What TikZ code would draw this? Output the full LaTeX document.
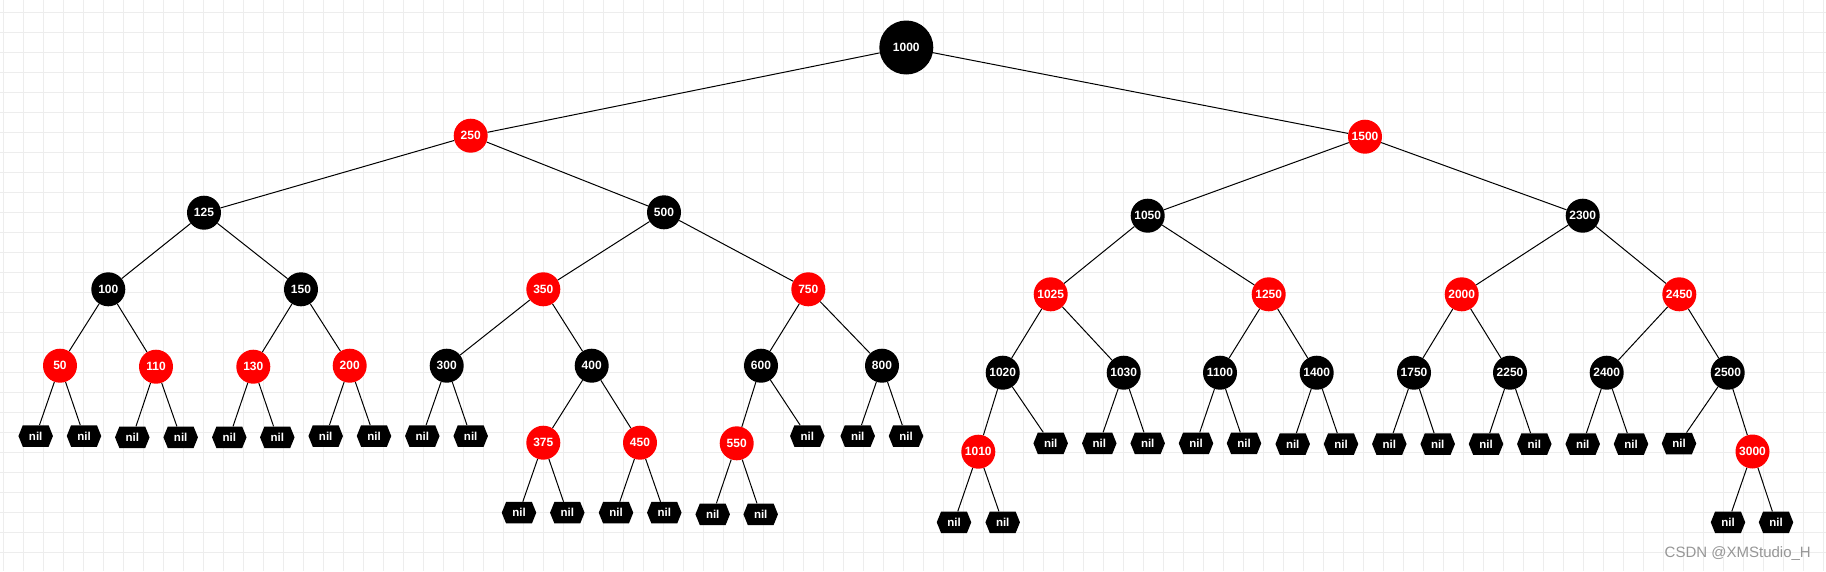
\documentclass[tikz,border=0pt]{standalone}
\usepackage{fontspec}
\setmainfont{Liberation Sans}
\usetikzlibrary{shapes.symbols}
\definecolor{gridc}{RGB}{237,237,237}
\definecolor{rbred}{RGB}{255,0,0}
\definecolor{wm}{RGB}{150,150,150}
\begin{document}
\begin{tikzpicture}[x=1pt,y=-1pt,
  rb/.style={circle, draw=none, minimum size=34pt, inner sep=0pt, text=white, font=\fontsize{12}{13}\selectfont\bfseries},
  bk/.style={rb, fill=black},
  rd/.style={rb, fill=rbred},
  nilnode/.style={shape=signal, signal to=east and west, signal pointer angle=136, fill=black, draw=none, minimum width=34.5pt, minimum height=21.5pt, inner sep=0pt, text=white, font=\fontsize{11.5}{12}\selectfont\bfseries},
  link/.style={draw=black, line width=1pt}]
\useasboundingbox (0,0) rectangle (1826,571);
\fill[white] (0,0) rectangle (1826,571);
\foreach \i in {0,...,91} \draw[gridc, line width=0.9pt] ({3.3+20*\i},0) -- ({3.3+20*\i},571);
\foreach \j in {0,...,27} \draw[gridc, line width=0.9pt] (0,{12.3+20*\j}) -- (1826,{12.3+20*\j});

% level 0
\node[bk, minimum size=54pt] (n1000) at (906.3,47.5) {1000};
% level 1
\node[rd] (n250) at (470.7,135.7) {250};
\node[rd] (n1500) at (1365,136.7) {1500};
% level 2
\node[bk] (n125) at (204,212.7) {125};
\node[bk] (n500) at (664,212.3) {500};
\node[bk] (n1050) at (1147.7,215.7) {1050};
\node[bk] (n2300) at (1582.7,215.7) {2300};
% level 3
\node[bk] (n100) at (108.3,289.3) {100};
\node[bk] (n150) at (301,289.3) {150};
\node[rd] (n350) at (543.3,289.3) {350};
\node[rd] (n750) at (808.3,289.3) {750};
\node[rd] (n1025) at (1050.7,294.3) {1025};
\node[rd] (n1250) at (1268.7,294.3) {1250};
\node[rd] (n2000) at (1461.7,294.3) {2000};
\node[rd] (n2450) at (1679.3,294.3) {2450};
% level 4
\node[rd] (n50) at (60,365.7) {50};
\node[rd] (n110) at (156,366.7) {110};
\node[rd] (n130) at (253.3,366.7) {130};
\node[rd] (n200) at (349.7,365.7) {200};
\node[bk] (n300) at (446.7,365.7) {300};
\node[bk] (n400) at (591.7,365.7) {400};
\node[bk] (n600) at (761,365.7) {600};
\node[bk] (n800) at (882,365.7) {800};
\node[bk] (n1020) at (1002.7,372.7) {1020};
\node[bk] (n1030) at (1123.7,372.7) {1030};
\node[bk] (n1100) at (1220,372.7) {1100};
\node[bk] (n1400) at (1316.7,372.7) {1400};
\node[bk] (n1750) at (1414,372.7) {1750};
\node[bk] (n2250) at (1510,372.7) {2250};
\node[bk] (n2400) at (1606.7,372.7) {2400};
\node[bk] (n2500) at (1727.7,372.7) {2500};
% level 5
\node[rd] (n375) at (543.3,442.7) {375};
\node[rd] (n450) at (640,442.7) {450};
\node[rd] (n550) at (736.7,443.3) {550};
\node[rd] (n1010) at (978.3,451.7) {1010};
\node[rd] (n3000) at (1752.5,451.5) {3000};
% nil leaves
\node[nilnode] (z50a) at (35.7,436) {nil};
\node[nilnode] (z50b) at (84,436) {nil};
\node[nilnode] (z110a) at (132.3,437.3) {nil};
\node[nilnode] (z110b) at (180.7,437.3) {nil};
\node[nilnode] (z130a) at (229.3,437.3) {nil};
\node[nilnode] (z130b) at (277.3,437.3) {nil};
\node[nilnode] (z200a) at (325.7,436) {nil};
\node[nilnode] (z200b) at (374,436) {nil};
\node[nilnode] (z300a) at (422.3,436) {nil};
\node[nilnode] (z300b) at (470.7,436) {nil};
\node[nilnode] (z375a) at (519,512.7) {nil};
\node[nilnode] (z375b) at (567.3,512.7) {nil};
\node[nilnode] (z450a) at (616,512.7) {nil};
\node[nilnode] (z450b) at (664.3,512.7) {nil};
\node[nilnode] (z550a) at (712.7,514.3) {nil};
\node[nilnode] (z550b) at (760.7,514.3) {nil};
\node[nilnode] (z600b) at (807.3,436) {nil};
\node[nilnode] (z800a) at (857.7,436) {nil};
\node[nilnode] (z800b) at (906,436) {nil};
\node[nilnode] (z1010a) at (954,522.3) {nil};
\node[nilnode] (z1010b) at (1002.7,522.3) {nil};
\node[nilnode] (z1020b) at (1050.7,443.3) {nil};
\node[nilnode] (z1030a) at (1099.3,443.3) {nil};
\node[nilnode] (z1030b) at (1147.7,443.3) {nil};
\node[nilnode] (z1100a) at (1196,443.3) {nil};
\node[nilnode] (z1100b) at (1244,443.3) {nil};
\node[nilnode] (z1400a) at (1292.7,444) {nil};
\node[nilnode] (z1400b) at (1341,444) {nil};
\node[nilnode] (z1750a) at (1389.3,444) {nil};
\node[nilnode] (z1750b) at (1437.7,444) {nil};
\node[nilnode] (z2250a) at (1486,444) {nil};
\node[nilnode] (z2250b) at (1534.3,444) {nil};
\node[nilnode] (z2400a) at (1582.7,444) {nil};
\node[nilnode] (z2400b) at (1631,444) {nil};
\node[nilnode] (z2500a) at (1679,443.5) {nil};
\node[nilnode] (z3000a) at (1728,522.3) {nil};
\node[nilnode] (z3000b) at (1776,522.3) {nil};

% edges
\foreach \p/\c in {n1000/n250, n1000/n1500,
  n250/n125, n250/n500, n1500/n1050, n1500/n2300,
  n125/n100, n125/n150, n500/n350, n500/n750, n1050/n1025, n1050/n1250, n2300/n2000, n2300/n2450,
  n100/n50, n100/n110, n150/n130, n150/n200, n350/n300, n350/n400, n750/n600, n750/n800,
  n1025/n1020, n1025/n1030, n1250/n1100, n1250/n1400, n2000/n1750, n2000/n2250, n2450/n2400, n2450/n2500,
  n400/n375, n400/n450, n600/n550, n1020/n1010, n2500/n3000,
  n50/z50a, n50/z50b, n110/z110a, n110/z110b, n130/z130a, n130/z130b, n200/z200a, n200/z200b,
  n300/z300a, n300/z300b, n375/z375a, n375/z375b, n450/z450a, n450/z450b, n550/z550a, n550/z550b,
  n600/z600b, n800/z800a, n800/z800b, n1010/z1010a, n1010/z1010b, n1020/z1020b,
  n1030/z1030a, n1030/z1030b, n1100/z1100a, n1100/z1100b, n1400/z1400a, n1400/z1400b,
  n1750/z1750a, n1750/z1750b, n2250/z2250a, n2250/z2250b, n2400/z2400a, n2400/z2400b,
  n2500/z2500a, n3000/z3000a, n3000/z3000b}
  \draw[link] (\p) -- (\c);

\node[anchor=east, text=wm, font=\fontsize{15}{16}\selectfont, inner sep=0pt] (wmark) at (1811,554) {CSDN @XMStudio\_H};
\end{tikzpicture}
\end{document}
